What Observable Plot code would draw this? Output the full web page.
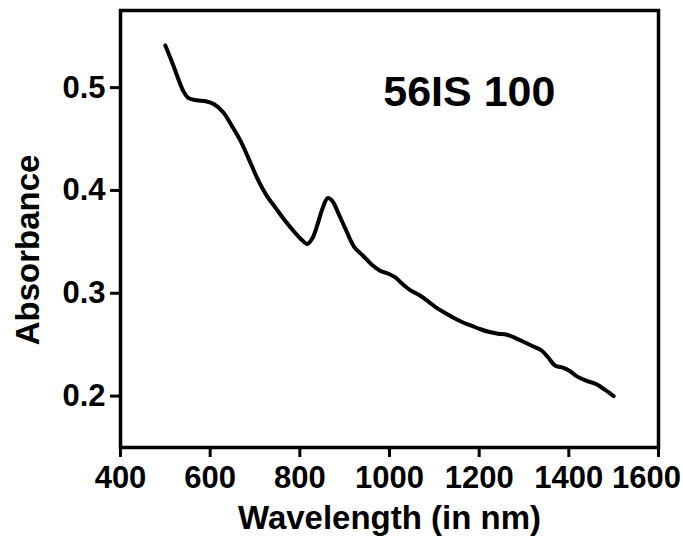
<!DOCTYPE html>
<html>
<head>
<meta charset="utf-8">
<script src="https://cdn.jsdelivr.net/npm/d3@7"></script>
<script src="https://cdn.jsdelivr.net/npm/@observablehq/plot@0.6"></script>
<style>
  html, body { margin: 0; padding: 0; background: #fff; }
  svg { font-family: "Liberation Sans", Arial, sans-serif; }
</style>
</head>
<body>
<div id="chart"></div>
<script>
const wavelength = [500, 517, 531, 541, 551, 570, 590, 609, 629, 648, 668, 687, 707, 726, 746, 765, 785, 804, 817, 828, 838, 851, 862, 872, 887, 901, 921, 940, 960, 979, 999, 1013, 1028, 1047, 1067, 1086, 1106, 1125, 1145, 1164, 1184, 1203, 1223, 1242, 1262, 1281, 1301, 1320, 1340, 1354, 1369, 1388, 1403, 1418, 1437, 1461, 1481, 1500];
const absorbance = [0.541, 0.5225, 0.506, 0.496, 0.490, 0.4877, 0.4867, 0.4838, 0.476, 0.463, 0.448, 0.4297, 0.410, 0.395, 0.383, 0.3717, 0.361, 0.352, 0.348, 0.3535, 0.365, 0.383, 0.3926, 0.390, 0.3767, 0.3634, 0.3452, 0.337, 0.328, 0.322, 0.3187, 0.3154, 0.3094, 0.3028, 0.298, 0.2922, 0.2855, 0.2806, 0.2756, 0.2716, 0.2683, 0.265, 0.2623, 0.2607, 0.2597, 0.2564, 0.2524, 0.2484, 0.2441, 0.2375, 0.2298, 0.2275, 0.2242, 0.2192, 0.2152, 0.2116, 0.206, 0.200];
const xTicks = [400, 600, 800, 1000, 1200, 1400, 1600];
const yTicks = [0.2, 0.3, 0.4, 0.5];
const sampleLabel = "56IS 100";
const xLabel = "Wavelength (in nm)";
const yLabel = "Absorbance";

const data = wavelength.map((w, i) => ({w, a: absorbance[i]}));

const chart = Plot.plot({
  width: 683,
  height: 536,
  marginLeft: 120,
  marginRight: 25,
  marginTop: 10,
  marginBottom: 89,
  x: {domain: [400, 1600]},
  y: {domain: [0.15, 0.575]},
  style: {fontFamily: "'Liberation Sans', Arial, sans-serif", color: "black", background: "white", overflow: "visible"},
  marks: [
    Plot.frame({stroke: "black", strokeWidth: 3.5}),
    Plot.axisX({ticks: xTicks, tickSize: 10, tickPadding: 8, strokeWidth: 3, fontSize: 31, fontWeight: "bold",
      tickFormat: d => d === 1600 ? "" : String(d), label: null}),
    Plot.axisX({ticks: [1600], tickSize: 0, tickPadding: 18, dx: -12, fontSize: 31, fontWeight: "bold",
      tickFormat: d => String(d), label: null}),
    Plot.axisY({ticks: yTicks, tickSize: 10, tickPadding: 5, strokeWidth: 3, fontSize: 31, fontWeight: "bold",
      tickFormat: d3.format(".1f"), label: null}),
    Plot.line(data, {x: "w", y: "a", stroke: "black", strokeWidth: 4, curve: "catmull-rom"}),
    Plot.text([sampleLabel], {x: 986, y: 0.4952, text: d => d, textAnchor: "start", lineAnchor: "middle",
      fontSize: 43, fontWeight: "bold", fill: "black"}),
    Plot.text([xLabel], {frameAnchor: "bottom", text: d => d, textAnchor: "middle", lineAnchor: "top", dy: 58,
      fontSize: 33, fontWeight: "bold", fill: "black"}),
    Plot.text([yLabel], {frameAnchor: "left", text: d => d, textAnchor: "middle", lineAnchor: "top", rotate: -90, dx: -105, dy: 21,
      fontSize: 33, fontWeight: "bold", fill: "black"})
  ]
});
document.getElementById("chart").appendChild(chart);
</script>
</body>
</html>
